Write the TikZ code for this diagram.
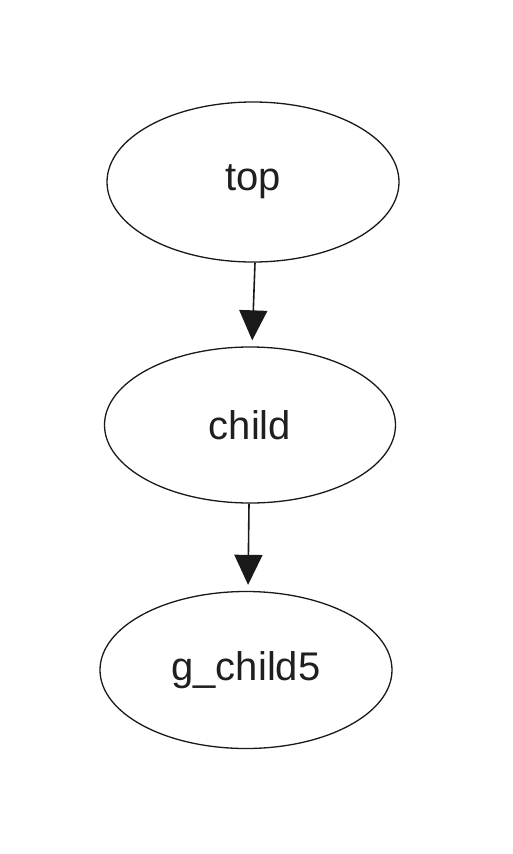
\documentclass[tikz,border=0pt]{standalone}
\usepackage{fontspec}
\setmainfont{Liberation Sans}
\usetikzlibrary{shapes.geometric,arrows.meta}
\tikzset{
  nd/.style={draw=black!90, line width=1.3pt, ellipse, inner sep=0pt, font=\fontsize{40}{44}\selectfont, text=black!88},
  ar/.style={draw=black!90, line width=1.6pt, -{Triangle[length=30pt,width=28pt]}, shorten >=6pt}
}
\begin{document}
\begin{tikzpicture}[x=1pt,y=-1pt]
\useasboundingbox (0,0) rectangle (512,854);
\node[nd, minimum width=292pt, minimum height=160pt] (top) at (253,182) {top};
\node[nd, minimum width=291pt, minimum height=156pt] (child) at (250,425) {child};
\node[nd, minimum width=292pt, minimum height=157pt] (g) at (246,670) {g\_child5};
\draw[ar] (top.south -| 255,0) -- (child.north -| 252,0);
\draw[ar] (child.south -| 249,0) -- (g.north -| 248,0);
\end{tikzpicture}
\end{document}
